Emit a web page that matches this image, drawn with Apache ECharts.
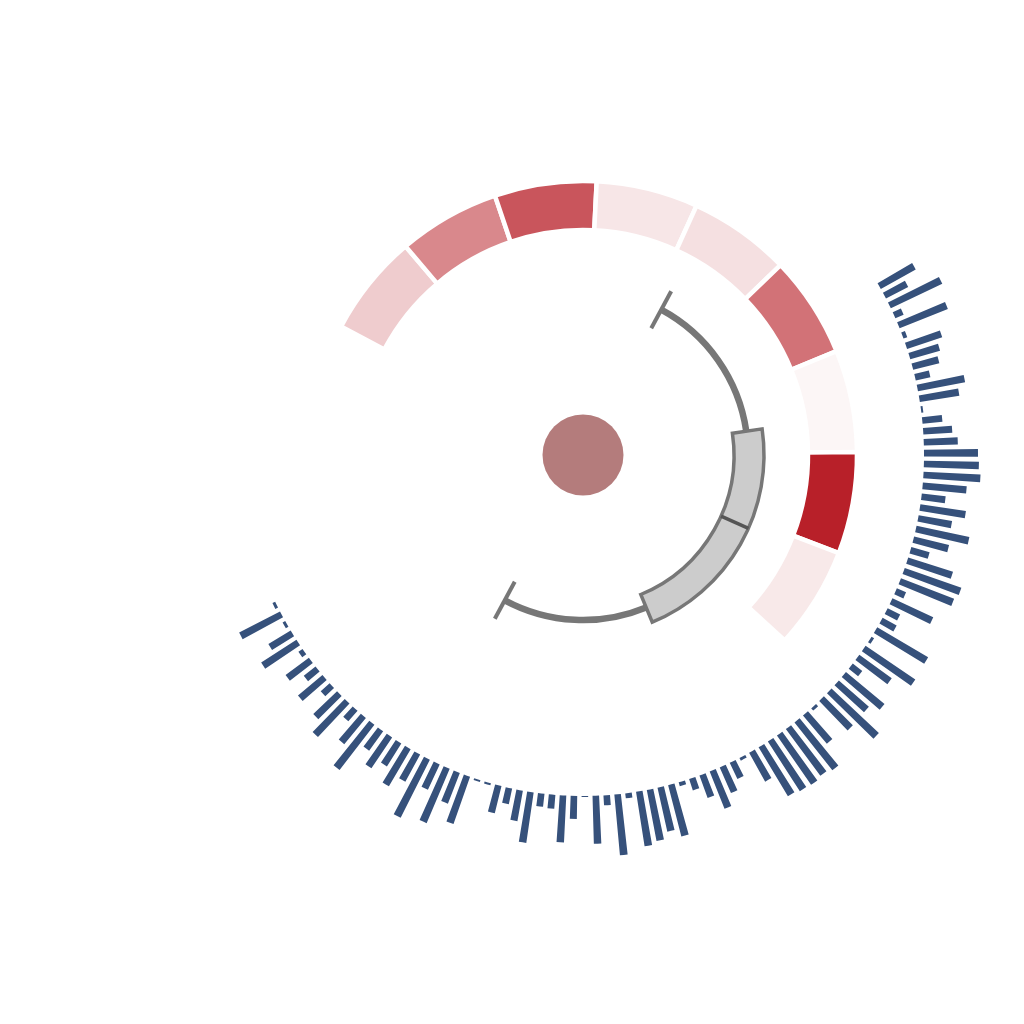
<!DOCTYPE html>
<html>
<head>
<meta charset="utf-8">
<title>radial chart</title>
<script src="https://cdn.jsdelivr.net/npm/echarts@6/dist/echarts.min.js"></script>
<style>
  html, body { margin: 0; padding: 0; background: #fff; }
  #main { width: 1024px; height: 1024px; }
</style>
</head>
<body>
<div id="main"></div>
<script>
'use strict';

// outer bars, clockwise from the upper right
var barValues = [
    40, 25, 57, 9, 52, 4, 37, 31, 27, 15,
    48, 40, 2, 20, 29, 34, 54, 55, 57, 44,
    24, 46, 34, 54, 36, 19, 47, 60, 57, 10,
    45, 14, 16, 59, 3, 60, 40, 12, 50, 40,
    65, 41, 3, 37, 61, 58, 60, 59, 57, 33,
    3, 18, 28, 40, 24, 12, 4, 53, 45, 52,
    55, 5, 61, 10, 48, 1, 23, 47, 14, 13,
    51, 31, 16, 28, 2, 2, 50, 33, 59, 28,
    65, 31, 43, 27, 37, 24, 57, 34, 14, 46,
    33, 12, 32, 15, 29, 5, 42, 26, 3, 46,
    3
];
var barSlots = 196;

// ring segments, clockwise, intensity 0-100
var ringLevels = [20, 51, 74, 8, 11, 61, 1, 98, 7];

// box: [min, Q1, median, Q3, max] on a 0-360 angle axis
var boxValues = [[28.3, 81.7, 113.9, 157.5, 208.3]];

var CENTER = [583, 455];

var barCategories = [];
for (var i = 0; i < barSlots; i++) {
    barCategories.push('b' + i);
}

var ringData = ringLevels.map(function (lv, idx) {
    return {
        name: 's' + idx,
        value: 1,
        level: lv,
        itemStyle: { color: echarts.color.lerp(lv / 100, ['#fdf8f8', '#b71c25']) }
    };
});

var WHISKER_R = 165;

function renderBox(params, api) {
    var cx = params.coordSys.cx;
    var cy = params.coordSys.cy;
    var lo = api.value(0), q1 = api.value(1), med = api.value(2),
        q3 = api.value(3), hi = api.value(4);

    function ang(v) {
        var p = api.coord([WHISKER_R, v]);
        return Math.atan2(p[1] - cy, p[0] - cx);
    }
    function cap(v, r0, r1, color, width) {
        var a = api.coord([r0, v]);
        var b = api.coord([r1, v]);
        return {
            type: 'line',
            shape: { x1: a[0], y1: a[1], x2: b[0], y2: b[1] },
            style: { stroke: color, lineWidth: width }
        };
    }
    var whisker = { stroke: '#777', lineWidth: 6.5, fill: null };

    return {
        type: 'group',
        children: [
            {
                type: 'arc',
                shape: { cx: cx, cy: cy, r: WHISKER_R, startAngle: ang(lo), endAngle: ang(q1), clockwise: true },
                style: whisker
            },
            {
                type: 'arc',
                shape: { cx: cx, cy: cy, r: WHISKER_R, startAngle: ang(q3), endAngle: ang(hi), clockwise: true },
                style: whisker
            },
            cap(lo, 144, 186, '#777', 4),
            cap(hi, 144, 186, '#777', 4),
            {
                type: 'sector',
                shape: { cx: cx, cy: cy, r0: 151, r: 181, startAngle: ang(q1), endAngle: ang(q3), clockwise: true },
                style: { fill: '#cccccc', stroke: '#777', lineWidth: 3.5 }
            },
            cap(med, 151, 181, '#555', 3.5)
        ]
    };
}

var chart = echarts.init(document.getElementById('main'));

var option = {
    backgroundColor: '#fff',
    animation: false,
    polar: [
        { center: CENTER, radius: [341, 411] },
        { center: CENTER, radius: [0, 200] }
    ],
    angleAxis: [
        {
            polarIndex: 0,
            type: 'category',
            data: barCategories,
            startAngle: 30.62,
            show: false
        },
        {
            polarIndex: 1,
            type: 'value',
            min: 0,
            max: 360,
            startAngle: 90,
            show: false
        }
    ],
    radiusAxis: [
        { polarIndex: 0, type: 'value', min: 0, max: 70, show: false },
        { polarIndex: 1, type: 'value', min: 0, max: 200, show: false }
    ],
    series: [
        {
            name: 'bars',
            type: 'bar',
            coordinateSystem: 'polar',
            polarIndex: 0,
            data: barValues,
            barWidth: '60%',
            itemStyle: { color: '#36517b' },
            silent: true
        },
        {
            name: 'ring',
            type: 'pie',
            center: CENTER,
            radius: [225, 274],
            startAngle: 152,
            endAngle: -42.6,
            clockwise: true,
            data: ringData,
            label: { show: false },
            labelLine: { show: false },
            itemStyle: { borderColor: '#fff', borderWidth: 4.5 },
            silent: true
        },
        {
            name: 'box',
            type: 'custom',
            coordinateSystem: 'polar',
            polarIndex: 1,
            data: boxValues,
            renderItem: renderBox,
            silent: true
        },
        {
            name: 'center',
            type: 'pie',
            center: CENTER,
            radius: [0, 40.5],
            data: [{ name: 'c', value: 1 }],
            itemStyle: { color: '#b47c7c' },
            label: { show: false },
            labelLine: { show: false },
            silent: true
        }
    ]
};

chart.setOption(option);
</script>
</body>
</html>
